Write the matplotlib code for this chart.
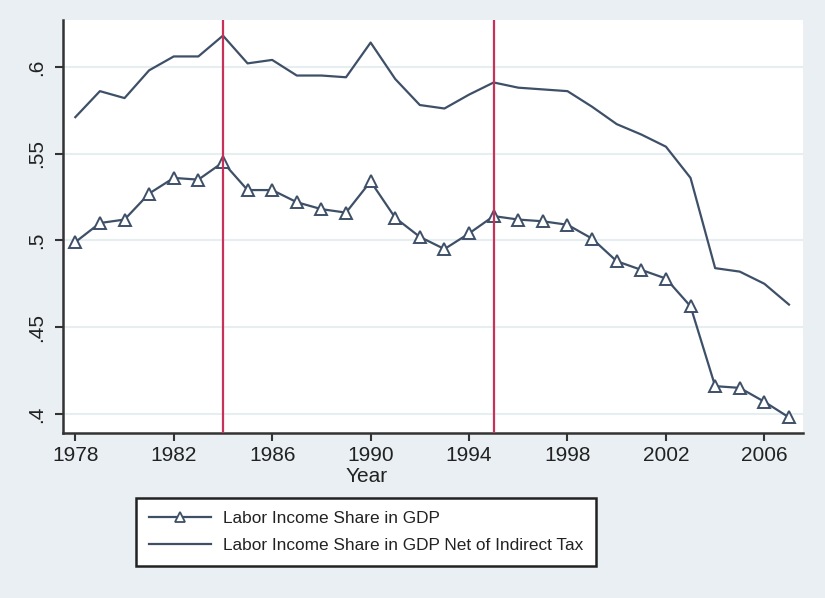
import matplotlib.pyplot as plt
from matplotlib.lines import Line2D

plt.rcParams['font.family'] = ['Liberation Sans', 'DejaVu Sans']

years = list(range(1978, 2008))
share_gdp = [0.499, 0.510, 0.512, 0.527, 0.536, 0.535, 0.545, 0.529, 0.529, 0.522,
             0.518, 0.516, 0.534, 0.513, 0.502, 0.495, 0.504, 0.514, 0.512, 0.511,
             0.509, 0.501, 0.488, 0.483, 0.478, 0.462, 0.416, 0.415, 0.407, 0.398]
share_net = [0.571, 0.586, 0.582, 0.598, 0.606, 0.606, 0.618, 0.602, 0.604, 0.595,
             0.595, 0.594, 0.614, 0.593, 0.578, 0.576, 0.584, 0.591, 0.588, 0.587,
             0.586, 0.577, 0.567, 0.561, 0.554, 0.536, 0.484, 0.482, 0.475, 0.463]
break_years = [1984, 1995]
xticks = [1978, 1982, 1986, 1990, 1994, 1998, 2002, 2006]
yticks = [0.4, 0.45, 0.5, 0.55, 0.6]
ylabels = ['.4', '.45', '.5', '.55', '.6']

line_col = '#3e5068'
bg = '#e9eff2'

fig = plt.figure(figsize=(8.25, 5.98), dpi=100, facecolor=bg)
ax = fig.add_axes([63/825, 165/598, 740/825, 413/598])
ax.set_facecolor('white')

ax.plot(years, share_gdp, color=line_col, lw=1.6, marker='^', ms=8,
        mfc='white', mec=line_col, mew=1.4, zorder=3)
ax.plot(years, share_net, color=line_col, lw=1.6, zorder=3)
for by in break_years:
    ax.axvline(by, color='#c8325a', lw=1.6, zorder=4)

ax.set_xlim(1977.5, 2007.57)
ax.set_ylim(0.389, 0.627)
ax.set_xticks(xticks)
ax.set_yticks(yticks)
ax.set_yticklabels(ylabels, rotation=90, va='center')
ax.tick_params(labelsize=15, length=6, width=1.5, color='#333333', labelcolor='#222222')
ax.tick_params(axis='y', pad=6)
ax.grid(axis='y', color='#e6eef2', lw=1.5, zorder=0)
for s in ['top', 'right']:
    ax.spines[s].set_visible(False)
for s in ['left', 'bottom']:
    ax.spines[s].set_color('#333333')
    ax.spines[s].set_linewidth(1.8)

fig.text(367/825, 1 - 477/598, 'Year', ha='center', va='center', fontsize=15, color='#222222')

handles = [Line2D([], [], color=line_col, lw=1.6, marker='^', ms=7, mfc='white', mec=line_col, mew=1.3),
           Line2D([], [], color=line_col, lw=1.6)]
leg = fig.legend(handles, ['Labor Income Share in GDP', 'Labor Income Share in GDP Net of Indirect Tax'],
                 loc='center', bbox_to_anchor=(366/825, 1 - 532/598), fontsize=12.4,
                 frameon=True, fancybox=False, framealpha=1, facecolor='white',
                 edgecolor='#222222', handlelength=3.6, handletextpad=0.7,
                 borderpad=0.75, borderaxespad=0, labelspacing=0.7)
leg.get_frame().set_linewidth(1.8)
for t in leg.get_texts():
    t.set_color('#222222')

fig.savefig('out.png', dpi=100, facecolor=bg)
